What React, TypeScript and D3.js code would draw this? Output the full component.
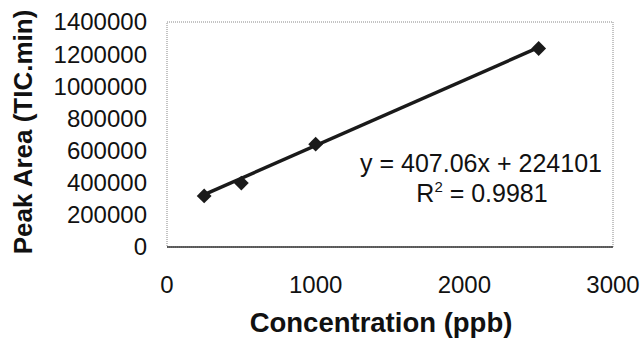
import { useRef, useEffect } from "react";
import * as d3 from "d3";

// calibration points
const concentration = [250, 500, 1000, 2500];
const peakArea = [318000, 398000, 640000, 1235000];

const xTicks = [0, 1000, 2000, 3000];
const yTicks = [0, 200000, 400000, 600000, 800000, 1000000, 1200000, 1400000];

const slope = 407.06;
const intercept = 224101;
const equationText = "y = 407.06x + 224101";
const rSquared = "0.9981";

const FONT = "Arial, 'Liberation Sans', sans-serif";

export default function App() {
  const svgRef = useRef<SVGSVGElement>(null);

  useEffect(() => {
    if (!svgRef.current) return;
    const width = 642;
    const height = 349;
    const margin = { top: 22, right: 29, bottom: 102, left: 167 };
    const innerWidth = width - margin.left - margin.right;
    const innerHeight = height - margin.top - margin.bottom;

    const svg = d3.select(svgRef.current);
    svg.selectAll("*").remove();
    svg.attr("width", width).attr("height", height);

    const x = d3.scaleLinear().domain([0, 3000]).range([0, innerWidth]);
    const y = d3.scaleLinear().domain([0, 1400000]).range([innerHeight, 0]);

    const g = svg
      .append("g")
      .attr("transform", `translate(${margin.left},${margin.top})`);

    // plot area frame (dotted like Excel)
    g.append("rect")
      .attr("x", 0)
      .attr("y", 0)
      .attr("width", innerWidth)
      .attr("height", innerHeight)
      .attr("fill", "none")
      .attr("stroke", "#888")
      .attr("stroke-width", 1)
      .attr("stroke-dasharray", "1,1");

    // x axis line
    g.append("line")
      .attr("x1", 0)
      .attr("x2", innerWidth)
      .attr("y1", innerHeight)
      .attr("y2", innerHeight)
      .attr("stroke", "#333")
      .attr("stroke-width", 1.5);

    // y tick labels
    g.selectAll(".ytick")
      .data(yTicks)
      .enter()
      .append("text")
      .attr("class", "ytick")
      .attr("x", -20)
      .attr("y", (d) => y(d))
      .attr("dy", "0.35em")
      .attr("text-anchor", "end")
      .attr("font-family", FONT)
      .attr("font-size", "24px")
      .attr("fill", "#111")
      .text((d) => String(d));

    // x tick labels
    g.selectAll(".xtick")
      .data(xTicks)
      .enter()
      .append("text")
      .attr("class", "xtick")
      .attr("x", (d) => x(d))
      .attr("y", innerHeight + 46)
      .attr("text-anchor", "middle")
      .attr("font-family", FONT)
      .attr("font-size", "24px")
      .attr("fill", "#111")
      .text((d) => String(d));

    // linear trendline across the data range
    const xs = d3.extent(concentration) as [number, number];
    const fit = xs.map((c) => [c, slope * c + intercept]);
    g.append("path")
      .attr(
        "d",
        d3
          .line<number[]>()
          .x((d) => x(d[0]))
          .y((d) => y(d[1]))(fit)
      )
      .attr("fill", "none")
      .attr("stroke", "#1a1a1a")
      .attr("stroke-width", 3.5);

    // diamond markers
    const diamond = d3.symbol().type(d3.symbolDiamond2).size(140);
    g.selectAll(".pt")
      .data(concentration)
      .enter()
      .append("path")
      .attr("class", "pt")
      .attr("d", diamond)
      .attr("transform", (d, i) => `translate(${x(d)},${y(peakArea[i])})`)
      .attr("fill", "#1a1a1a");

    // equation + R²
    g.append("text")
      .attr("x", 314)
      .attr("y", 150)
      .attr("text-anchor", "middle")
      .attr("font-family", FONT)
      .attr("font-size", "25px")
      .attr("fill", "#111")
      .text(equationText);

    const r2 = g
      .append("text")
      .attr("x", 315)
      .attr("y", 180)
      .attr("text-anchor", "middle")
      .attr("font-family", FONT)
      .attr("font-size", "25px")
      .attr("fill", "#111");
    r2.append("tspan").text("R");
    r2.append("tspan").attr("dy", -10).attr("font-size", "15px").text("2");
    r2.append("tspan").attr("dy", 10).text(` = ${rSquared}`);

    // axis titles
    svg
      .append("text")
      .attr("transform", `translate(32,${margin.top + 110}) rotate(-90)`)
      .attr("text-anchor", "middle")
      .attr("font-family", FONT)
      .attr("font-size", "26px")
      .attr("font-weight", "bold")
      .attr("fill", "#111")
      .text("Peak Area (TIC.min)");

    svg
      .append("text")
      .attr("x", 381)
      .attr("y", 332)
      .attr("text-anchor", "middle")
      .attr("font-family", FONT)
      .attr("font-size", "27.5px")
      .attr("font-weight", "bold")
      .attr("fill", "#111")
      .text("Concentration (ppb)");
  }, []);

  return (
    <svg
      ref={svgRef}
      style={{ position: "absolute", left: 0, top: 0, background: "#fff" }}
    />
  );
}
